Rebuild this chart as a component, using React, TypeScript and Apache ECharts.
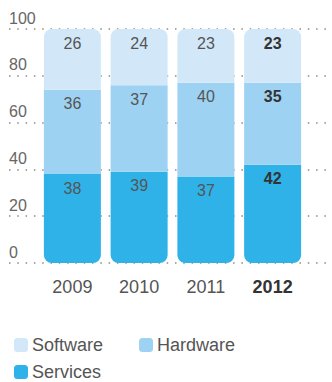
import React, { useEffect, useRef } from "react";
import * as echarts from "echarts";

const categories = ["2009", "2010", "2011", "2012"];
const services = [38, 39, 37, 42];
const hardware = [36, 37, 40, 35];
const software = [26, 24, 23, 23];
const yTicks = [0, 20, 40, 60, 80, 100];
const highlightIndex = 3;

const FONT = "'Liberation Sans', Arial, sans-serif";
const C_SOFT = "#d2e8f8";
const C_HARD = "#9ed2f2";
const C_SERV = "#2eb2e8";

export default function App() {
  const ref = useRef<HTMLDivElement>(null);
  useEffect(() => {
    document.body.style.margin = "0";
    const chart = echarts.init(ref.current!, null, { renderer: "svg" });
    const mk = (arr: number[]) =>
      arr.map((v, i) =>
        i === highlightIndex
          ? { value: v, label: { fontWeight: "bold", color: "#333" } }
          : v
      );
    const lbl = {
      show: true,
      position: "insideTop",
      distance: 6,
      fontSize: 16,
      fontFamily: FONT,
      color: "#555",
    };
    const legendText = {
      fontSize: 18,
      lineHeight: 17,
      fontFamily: FONT,
      color: "#555",
      padding: [0, 0, 0, -1],
    };
    chart.setOption({
      animation: false,
      grid: [
        { left: 9, right: 6, top: 29, bottom: 119 },
        { left: 39, right: 26, top: 29, bottom: 119 },
      ],
      xAxis: [
        { type: "category", gridIndex: 0, data: categories, show: false },
        {
          type: "category",
          gridIndex: 1,
          data: categories,
          axisLine: { show: false },
          axisTick: { show: false },
          axisLabel: {
            interval: 0,
            margin: 15,
            fontSize: 18,
            fontFamily: FONT,
            color: "#555",
            formatter: (v: string, i: number) =>
              i === highlightIndex ? `{b|${v}}` : v,
            rich: {
              b: { fontWeight: "bold", fontSize: 18, fontFamily: FONT, color: "#333" },
            },
          },
        },
      ],
      yAxis: [
        {
          type: "value",
          gridIndex: 0,
          min: yTicks[0],
          max: yTicks[yTicks.length - 1],
          interval: yTicks[1] - yTicks[0],
          axisLine: { show: false },
          axisTick: { show: false },
          splitLine: {
            show: true,
            lineStyle: { color: "#8a8a8a", width: 1.5, type: [1.5, 6.8] },
          },
          axisLabel: {
            inside: true,
            margin: 0,
            align: "left",
            verticalAlign: "bottom",
            padding: [0, 0, 3, 0],
            fontSize: 16,
            fontFamily: FONT,
            color: "#666",
          },
        },
        {
          type: "value",
          gridIndex: 1,
          min: yTicks[0],
          max: yTicks[yTicks.length - 1],
          show: false,
        },
      ],
      legend: [
        {
          left: 9,
          top: 331,
          icon: "roundRect",
          itemWidth: 14,
          itemHeight: 14,
          itemGap: 36,
          textStyle: legendText,
          data: ["Software", "Hardware"],
          selectedMode: false,
        },
        {
          left: 9,
          top: 358,
          icon: "roundRect",
          itemWidth: 14,
          itemHeight: 14,
          textStyle: legendText,
          data: ["Services"],
          selectedMode: false,
        },
      ],
      series: [
        {
          name: "Services",
          type: "bar",
          stack: "total",
          xAxisIndex: 1,
          yAxisIndex: 1,
          barWidth: 57,
          data: mk(services),
          itemStyle: { color: C_SERV, borderRadius: [0, 0, 8, 8] },
          label: lbl,
        },
        {
          name: "Hardware",
          type: "bar",
          stack: "total",
          xAxisIndex: 1,
          yAxisIndex: 1,
          barWidth: 57,
          data: mk(hardware),
          itemStyle: { color: C_HARD },
          label: lbl,
        },
        {
          name: "Software",
          type: "bar",
          stack: "total",
          xAxisIndex: 1,
          yAxisIndex: 1,
          barWidth: 57,
          data: mk(software),
          itemStyle: { color: C_SOFT, borderRadius: [8, 8, 0, 0] },
          label: lbl,
        },
      ],
    });
    return () => chart.dispose();
  }, []);
  return (
    <div
      ref={ref}
      style={{ position: "absolute", left: 0, top: 0, width: 332, height: 382 }}
    />
  );
}
